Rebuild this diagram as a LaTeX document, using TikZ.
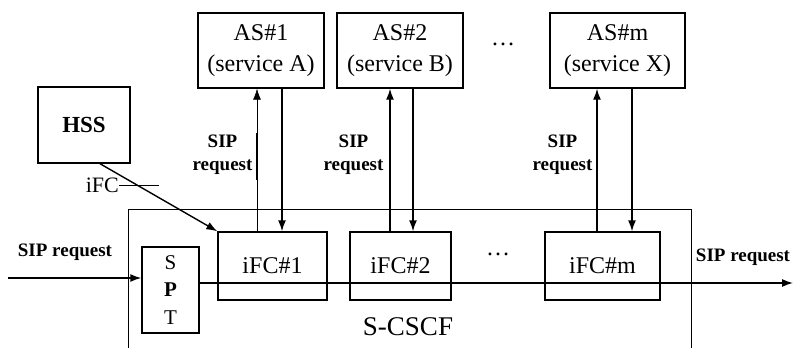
\documentclass[tikz,border=0pt]{standalone}
\usepackage{fontspec}
\setmainfont{Liberation Serif}
\usetikzlibrary{arrows.meta}

\tikzset{
  box/.style={draw, line width=1.4pt, inner sep=0pt, align=center,
    font=\fontsize{24}{31}\selectfont},
  flow/.style={line width=1.4pt, -{Latex[length=11pt,width=8pt]}},
  lbl/.style={font=\fontsize{19}{23}\selectfont\bfseries, align=center, inner sep=0pt}
}

\begin{document}
\begin{tikzpicture}[x=1pt, y=-1pt]
\useasboundingbox (0,0) rectangle (793,348);

% S-CSCF frame (open at the bottom)
\draw[line width=0.7pt] (128,348) -- (128,209) -- (691,209) -- (691,348);
\node at (408,327) (scscf) {\fontsize{27}{30}\selectfont S-CSCF};

% application servers
\node at (261,50.5) (AS1) [box, minimum width=126pt, minimum height=75pt] {AS\#1\\(service A)};
\node at (400,50.5) (AS2) [box, minimum width=126pt, minimum height=75pt] {AS\#2\\(service B)};
\node at (617.5,50.5) (ASm) [box, minimum width=135pt, minimum height=75pt] {AS\#m\\(service X)};
\node at (503,44) (dotsA) {\fontsize{24}{30}\selectfont \dots};

\node at (84,125) (HSS) [box, minimum width=92pt, minimum height=76pt,
  font=\fontsize{23}{28}\selectfont\bfseries] {HSS};

% filter criteria inside the S-CSCF
\node at (170.5,290) (SPT) [box, minimum width=57pt, minimum height=86pt,
  font=\fontsize{21}{27.5}\selectfont] {S\\\textbf{P}\\T};
\node at (272.5,266) (iFC1) [box, minimum width=109pt, minimum height=68pt] {iFC\#1};
\node at (400.5,266) (iFC2) [box, minimum width=101pt, minimum height=68pt] {iFC\#2};
\node at (602.5,266) (iFCm) [box, minimum width=115pt, minimum height=68pt] {iFC\#m};
\node at (498,254) (dotsB) {\fontsize{24}{30}\selectfont \dots};

% request path through the S-CSCF
\coordinate (in) at (8,278);
\coordinate (out) at (793,283);
\draw[flow] (in) -- (in -| SPT.west);
\draw[flow] (SPT.east |- out) -- (out);
\node at (65,252) (inlbl) [lbl] {SIP request};
\node at (743,257) (outlbl) [lbl] {SIP request};

% iFC download from the HSS
\draw[flow] ([xshift=16pt]HSS.south) -- (iFC1.north west);
\node at (119,185) (ifc) [anchor=east, inner sep=0pt] {\fontsize{22}{26}\selectfont iFC};
\draw[line width=0.9pt] (ifc.east) -- ++(40,0);

% requests towards and back from the servers
\coordinate (u1) at (257,0);  \coordinate (d1) at (282,0);
\coordinate (u2) at (390,0);  \coordinate (d2) at (413,0);
\coordinate (um) at (597,0);  \coordinate (dm) at (632,0);

\draw[flow, line width=0.6pt] (u1 |- iFC1.north) -- (u1 |- AS1.south);
\draw[line width=2pt] (257,133) -- (257,180);
\draw[flow] (d1 |- AS1.south) -- (d1 |- iFC1.north);
\draw[flow] (u2 |- iFC2.north) -- (u2 |- AS2.south);
\draw[flow] (d2 |- AS2.south) -- (d2 |- iFC2.north);
\draw[flow] (um |- iFCm.north) -- (um |- ASm.south);
\draw[flow] (dm |- ASm.south) -- (dm |- iFCm.north);

\node at (222.5,155) (req1) [lbl] {SIP\\request};
\node at (353.5,155) (req2) [lbl] {SIP\\request};
\node at (562.5,155) (reqm) [lbl] {SIP\\request};
\end{tikzpicture}
\end{document}
